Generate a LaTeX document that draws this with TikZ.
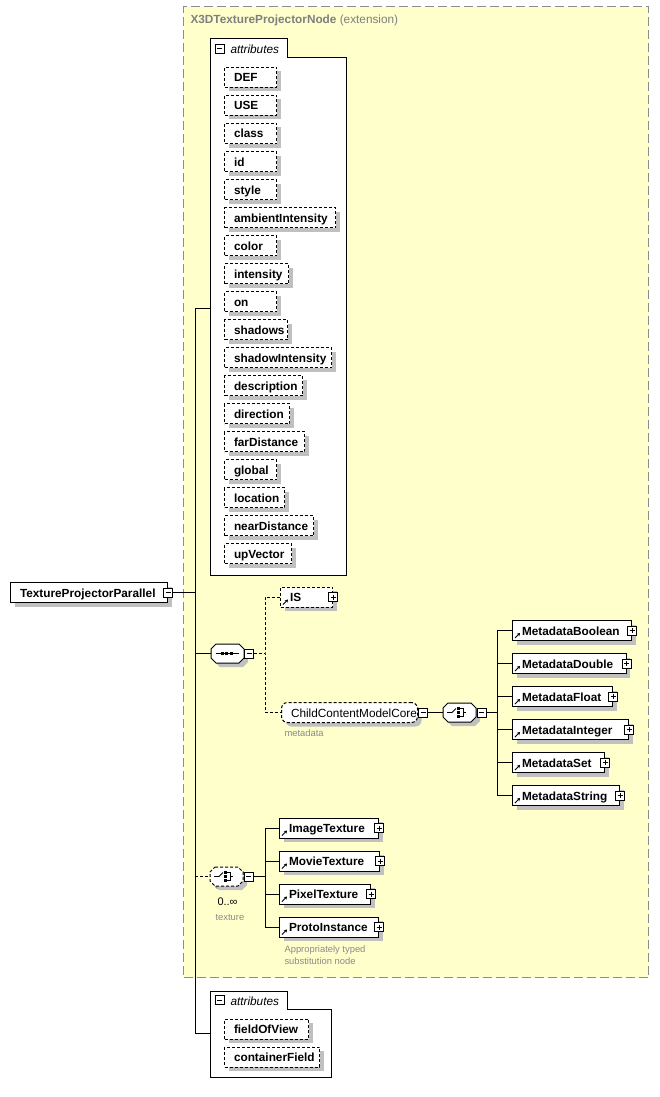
\documentclass[tikz,border=0pt]{standalone}
\usepackage{fontspec}
\setmainfont{Liberation Sans}
\usetikzlibrary{shadows,arrows.meta}
\definecolor{bgyellow}{HTML}{FFFFCC}
\definecolor{extgray}{HTML}{8C8C8C}
\definecolor{shadowgray}{HTML}{C0C0C0}
\definecolor{titlegray}{HTML}{7F7F7F}
\definecolor{notegray}{HTML}{8A8A8A}
\newcommand\xsdref[1]{\draw[-{Stealth[length=3pt,width=3.6pt]},line width=1pt] ([xshift=3pt,yshift=3pt]#1.south west) -- ++(5,-5);}
\newcommand\octa[6]{%
  \fill[shadowgray] (#2+9,#3+4) -- (#4-1,#3+4) -- (#4+4,#3+9) -- (#4+4,#5-1) -- (#4-1,#5+4) -- (#2+9,#5+4) -- (#2+4,#5-1) -- (#2+4,#3+9) -- cycle;
  \draw[#6,fill=white] (#2+5,#3) -- (#4-5,#3) -- (#4,#3+5) -- (#4,#5-5) -- (#4-5,#5) -- (#2+5,#5) -- (#2,#5-5) -- (#2,#3+5) -- cycle;
  \coordinate (#1-w) at (#2,{(#3+#5)/2});
  \coordinate (#1-e) at (#4,{(#3+#5)/2});}
\newcommand\chicon[2]{%
  \draw[line width=0.9pt] (#1+4,#2) -- (#1+9,#2) -- (#1+13,#2-4);
  \fill (#1+14,#2-5.2) rectangle ++(2.6,2.6);
  \fill (#1+14,#2-1.3) rectangle ++(2.6,2.6);
  \fill (#1+14,#2+2.6) rectangle ++(2.6,2.6);
  \draw[line width=0.8pt] (#1+16.6,#2-3.9) -- (#1+20,#2-3.9) -- (#1+20,#2+3.9) -- (#1+16.6,#2+3.9) (#1+20,#2) -- (#1+23,#2);}
\tikzset{
  dsh/.style={dash pattern=on 3pt off 2pt},
  sh/.style={general shadow={fill=shadowgray, shadow xshift=4pt, shadow yshift=-4pt}},
  xbox/.style={draw=black, fill=white, anchor=west, minimum height=20pt, inner xsep=0pt, inner ysep=0pt,
    text width=#1, text height=10pt, text depth=1pt, align=left,
    font=\bfseries\fontsize{11.8}{14}\selectfont,
    execute at begin node={\noindent\hyphenpenalty=10000\hspace*{9.5pt}}, sh},
  attrbox/.style={xbox=#1, dsh},
  grpbox/.style={xbox=#1, dsh, rounded corners=6pt, font=\fontsize{11.8}{14}\selectfont},
  pmbox/.style={draw=black, fill=white, minimum size=9pt, inner sep=0pt, line width=0.8pt},
  minusbox/.style={pmbox, path picture={\draw[line width=0.8pt] ([xshift=2pt]path picture bounding box.west) -- ([xshift=-2pt]path picture bounding box.east);}},
  plusbox/.style={pmbox, path picture={\draw[line width=0.8pt] ([xshift=2pt]path picture bounding box.west) -- ([xshift=-2pt]path picture bounding box.east) ([yshift=-2pt]path picture bounding box.north) -- ([yshift=2pt]path picture bounding box.south);}},
  note/.style={anchor=base west, inner sep=0pt, text=notegray, font=\fontsize{9.4}{11}\selectfont},
  tablabel/.style={anchor=base west, inner sep=0pt, font=\itshape\fontsize{11.8}{14}\selectfont},
}
\begin{document}
\begin{tikzpicture}[x=1pt,y=-1pt,line width=1pt]
\useasboundingbox (0,0) rectangle (659,1097);
\fill[white] (0,0) rectangle (659,1097);
% extension box
\node[draw=extgray, line width=1.2pt, dash pattern=on 9pt off 4pt, fill=bgyellow, anchor=north west,
  minimum width=465pt, minimum height=971pt, inner sep=0pt] (ext) at (183,6) {};
\node[anchor=base west, inner sep=0pt, text=titlegray, font=\fontsize{11.8}{14}\selectfont] (title) at (190,24)
  {\textbf{X3DTextureProjectorNode} (extension)};
% top attributes container
\draw[fill=white] (210,39) -- (287,39) -- (287,58) -- (346,58) -- (346,575) -- (210,575) -- cycle;
\node[minusbox] (attrsAm) at (219.5,48.5) {};
\node[tablabel] (attrsAl) at (230,53.5) {attributes};
\coordinate (attrsA) at (210,308);
\foreach \n/\t/\w [count=\i from 0] in {def/DEF/52pt, use/USE/52pt, class/class/52pt, id/id/52pt, style/style/52pt,
  amb/ambientIntensity/111pt, color/color/52pt, inten/intensity/64pt, on/on/52pt, shad/shadows/63pt,
  shint/shadowIntensity/107pt, desc/description/78pt, dir/direction/65pt, far/farDistance/80pt,
  glob/global/52pt, loc/location/60pt, near/nearDistance/89pt, up/upVector/67pt}
  {\node[attrbox=\w] (\n) at (224,77.5+28*\i) {\t};}
% main element
\node[xbox=157pt] (main) at (10,592.5) {TextureProjectorParallel};
\coordinate (tj) at (195,592.5);
\coordinate (ttop) at (195,308);
\coordinate (tbot) at (195,1033);
\draw (main.east) -- (tj);
\draw (ttop) -- (tbot);
\draw (ttop) -- (attrsA);
\node[minusbox] (mainm) at (main.east) {};
% sequence
\octa{seq}{211}{644}{244}{663}{}
\draw (216,653.5) -- (239,653.5);
\fill (220.5,652) rectangle ++(3,3);
\fill (225,652) rectangle ++(3,3);
\fill (229.5,652) rectangle ++(3,3);
\draw (seq-w -| tj) -- (seq-w);
\node[minusbox] (seqm) at (249,653.5) {};
\coordinate (sv) at (265,653.5);
\draw[dsh] (seqm.east) -- (sv);
\node[attrbox=52pt] (is) at (280,597) {IS};
\xsdref{is}
\node[plusbox] (isp) at (is.east) {};
\node[grpbox=136pt] (ccmc) at (281,712.5) {ChildContentModelCore};
\node[note] (metanote) at (284,736) {metadata};
\draw[dsh] (is.west) -| (sv) |- (ccmc.west);
\node[minusbox] (ccmcm) at (423,712.5) {};
% metadata choice
\octa{mch}{443}{703}{476}{722}{}
\chicon{443}{712.5}
\draw (ccmcm.east) -- (mch-w);
\node[minusbox] (mchm) at (481.5,712.5) {};
\coordinate (mct) at (497,630.5);
\coordinate (mcb) at (497,795.5);
\draw (mct) -- (mcb);
\draw (mchm.east) -- (mchm.east -| mct);
\foreach \n/\t/\w/\yy in {mb/MetadataBoolean/119pt/630.5, md/MetadataDouble/113.5pt/663.5,
  mf/MetadataFloat/100pt/696.5, mi/MetadataInteger/116pt/729.5, ms/MetadataSet/92pt/762.5,
  mstr/MetadataString/107pt/795.5}
  {\node[xbox=\w] (\n) at (512,\yy) {\t};
   \xsdref{\n}
   \node[plusbox] (\n-p) at (\n.east) {};
   \draw (\n.west -| mct) -- (\n.west);}
% texture choice
\draw[dsh,fill=white] (218,870) -- (241,870) -- (246,875) -- (246,884) -- (241,889) -- (218,889) -- (213,884) -- (213,875) -- cycle;
\octa{tch}{210}{867}{243}{886}{dsh}
\chicon{210}{876.5}
\draw[dsh] (tch-w -| tj) -- (tch-w);
\node[minusbox] (tchm) at (248.5,876.5) {};
\node[anchor=base west, inner sep=0pt, font=\fontsize{11}{13}\selectfont] (occ) at (217,905.5) {0..∞};
\node[note] (texnote) at (215,920) {texture};
\coordinate (tct) at (265,828);
\coordinate (tcb) at (265,927);
\draw (tct) -- (tcb);
\draw (tchm.east) -- (tchm.east -| tct);
\foreach \n/\t/\w/\yy in {img/ImageTexture/99pt/828, mov/MovieTexture/100pt/861,
  pix/PixelTexture/91pt/894, proto/ProtoInstance/99pt/927}
  {\node[xbox=\w] (\n) at (279,\yy) {\t};
   \xsdref{\n}
   \node[plusbox] (\n-p) at (\n.east) {};
   \draw (\n.west -| tct) -- (\n.west);}
\node[note] (subnote1) at (284,952.5) {Appropriately typed};
\node[note] (subnote2) at (284,964.5) {substitution node};
% bottom attributes container
\draw[fill=white] (210,991) -- (287,991) -- (287,1009) -- (331,1009) -- (331,1077) -- (210,1077) -- cycle;
\node[minusbox] (attrsBm) at (219.5,1000) {};
\node[tablabel] (attrsBl) at (230,1005) {attributes};
\coordinate (attrsB) at (210,1033);
\draw (tbot) -- (attrsB);
\node[attrbox=84pt] (fov) at (224,1029) {fieldOfView};
\node[attrbox=95pt] (cf) at (224,1057) {containerField};
\end{tikzpicture}
\end{document}
